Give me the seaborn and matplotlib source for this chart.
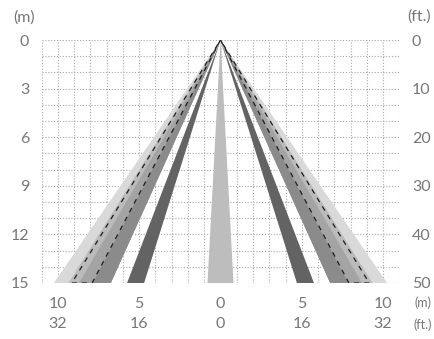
import matplotlib
matplotlib.use("Agg")
import matplotlib.pyplot as plt
import seaborn as sns
import numpy as np
import pandas as pd

# ---- data (metres) ----
range_m = 15
center_half_width = 0.8
dark_beam = [4.7, 5.75]
medium_beam = [6.75, 7.85]
band_b = [7.85, 8.7]
band_c = [8.7, 9.35]
light_beam = [9.35, 10.25]
dashed_beam = [7.9, 9.15]

y_ticks_m = [0, 3, 6, 9, 12, 15]
y_labels_ft = ["0", "10", "20", "30", "40", "50"]
x_ticks_m = [-10, -5, 0, 5, 10]
x_labels_m = ["10", "5", "0", "5", "10"]
x_labels_ft = ["32", "16", "0", "16", "32"]

colors = {
    "light": "#d9d9d9",
    "c": "#bbbbbb",
    "b": "#a4a4a4",
    "medium": "#8b8b8b",
    "dark": "#636363",
    "center": "#bdbdbd",
}
text_color = "#777777"

sns.set_theme(style="white")
plt.rcParams["font.family"] = ["Lato", "DejaVu Sans"]

fig = plt.figure(figsize=(4.34, 3.39), dpi=100)
ax = fig.add_axes([41.7 / 434, 1 - 283 / 339, 357.6 / 434, 243 / 339])

ax.set_xlim(-11, 11)
ax.set_ylim(15, 0)

# grid
for xv in range(-11, 12):
    ax.axvline(xv, color="#a8a8a8", lw=0.8, ls=(0, (1, 1.6)), zorder=1)
for yv in range(0, 16):
    ax.axhline(yv, color="#a8a8a8", lw=0.8, ls=(0, (1, 1.6)), zorder=1)


def wedge(x0, x1, color, z):
    for s in (-1, 1):
        ax.fill([0, s * x0, s * x1], [0, range_m, range_m], color=color, lw=0, zorder=z)


# layered beams (outer first)
wedge(medium_beam[0], light_beam[1], colors["light"], 2)
wedge(medium_beam[0], band_c[1], colors["c"], 3)
wedge(medium_beam[0], band_b[1], colors["b"], 4)
wedge(medium_beam[0], medium_beam[1], colors["medium"], 5)
wedge(dark_beam[0], dark_beam[1], colors["dark"], 6)
ax.fill([0, -center_half_width, center_half_width], [0, range_m, range_m],
        color=colors["center"], lw=0, zorder=6)

# dashed outline beam
for s in (-1, 1):
    outline = pd.DataFrame({
        "x": [0, s * dashed_beam[0], s * dashed_beam[1], 0],
        "y": [0, range_m, range_m, 0],
    })
    ax.plot(outline["x"], outline["y"], color="#1e1e1e", lw=0.9,
            ls=(0, (4, 4)), zorder=7, solid_capstyle="butt")

for sp in ax.spines.values():
    sp.set_visible(False)

fs = 11.5
ax.set_yticks(y_ticks_m)
ax.set_yticklabels([str(v) for v in y_ticks_m])
ax.set_xticks(x_ticks_m)
ax.set_xticklabels([f"{a}\n{b}" for a, b in zip(x_labels_m, x_labels_ft)],
                   linespacing=1.55)
ax.tick_params(axis="both", length=0, labelsize=fs, colors=text_color)
ax.tick_params(axis="y", pad=9)
ax.tick_params(axis="x", pad=10)

ax2 = ax.twinx()
ax2.set_ylim(ax.get_ylim())
ax2.set_yticks(y_ticks_m)
ax2.set_yticklabels(y_labels_ft)
ax2.tick_params(axis="y", length=0, labelsize=fs, colors=text_color, pad=9)
for sp in ax2.spines.values():
    sp.set_visible(False)
ax2.grid(False)

fig.text(24 / 434, 1 - 18 / 339, "(m)", ha="center", va="center",
         fontsize=11.5, color=text_color)
fig.text(419 / 434, 1 - 17 / 339, "(ft.)", ha="center", va="center",
         fontsize=11.5, color=text_color)
fig.text(423 / 434, 1 - 303 / 339, "(m)", ha="center", va="center",
         fontsize=9, color=text_color)
fig.text(423 / 434, 1 - 325 / 339, "(ft.)", ha="center", va="center",
         fontsize=9, color=text_color)

fig.savefig("out.png", dpi=100)
